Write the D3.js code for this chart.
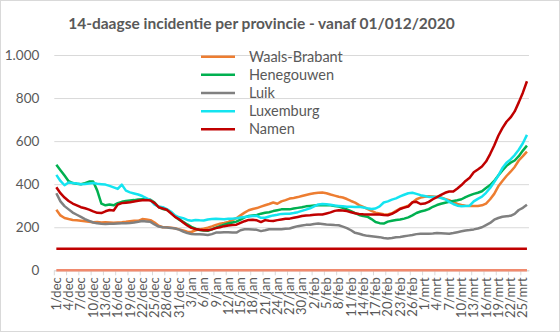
<!DOCTYPE html>
<html><head><meta charset="utf-8">
<script src="https://cdn.jsdelivr.net/npm/d3@7"></script>
<style>
html,body{margin:0;padding:0;background:#fff;}
svg{display:block;font-family:Lato,"Open Sans",sans-serif;}
</style></head><body>
<svg id="chart" width="560" height="332"></svg>
<script>
const title = "14-daagse incidentie per provincie - vanaf 01/012/2020";
const startDate = "2020-12-01";
const nDays = 116;
const monthNames = ["jan","feb","mrt","apr","mei","jun","jul","aug","sep","okt","nov","dec"];
const yTicks = [0, 200, 400, 600, 800, 1000];
const seriesNames = ["Waals-Brabant","Henegouwen","Luik","Luxemburg","Namen"];
const seriesColors = ["#ED7D31","#00B050","#808080","#14E4F0","#C00000"];

const waalsBrabant = [281,255,243,238,234,232,230,228,225,223,224,222,223,222,221,222,223,225,228,230,
230,238,236,233,222,207,200,200,198,195,190,185,179,178,186,190,193,198,204,211,
216,220,225,233,242,255,268,279,285,289,296,302,308,315,309,320,326,333,336,340,
345,350,354,358,360,361,358,352,347,342,338,331,322,314,303,295,285,276,268,264,
260,259,265,276,287,293,300,315,330,338,342,344,343,341,338,332,326,317,308,303,
300,299,299,299,302,310,330,355,390,415,438,458,480,510,530,551];
const henegouwen = [490,465,440,414,405,402,400,405,412,412,370,310,302,306,302,312,318,322,324,326,
329,330,331,328,315,294,285,281,270,250,235,225,213,202,193,187,185,184,190,198,
205,212,217,222,226,235,246,252,255,257,263,267,270,275,279,283,284,283,287,290,
293,297,299,301,302,302,302,302,299,296,290,283,275,266,257,252,249,238,224,219,
217,226,230,234,236,240,246,255,266,273,278,284,295,303,309,314,318,322,325,330,
340,348,355,360,367,382,396,415,440,464,485,500,510,530,556,579];
const luik = [358,320,298,283,268,258,248,238,230,222,218,216,215,216,216,217,218,219,220,222,
225,229,227,225,213,203,200,199,197,194,189,180,173,169,168,167,166,164,168,175,
176,177,177,176,175,186,191,191,190,188,182,186,191,191,191,191,193,194,200,205,
208,211,212,215,217,215,213,212,210,209,203,196,186,174,170,164,160,158,156,154,
150,148,150,153,155,158,161,164,168,170,170,170,171,173,172,171,170,173,177,181,
185,187,190,194,200,210,220,235,243,249,251,253,262,280,290,304];
const luxemburg = [443,415,395,408,405,403,400,401,403,405,402,400,398,392,385,378,398,370,362,357,
352,345,335,326,305,296,293,284,272,255,246,242,234,230,234,232,231,236,238,239,
238,237,239,240,242,245,248,250,252,253,244,244,250,255,258,262,263,263,266,270,
276,282,288,297,306,308,307,304,301,299,297,295,295,294,295,292,288,285,287,297,
315,320,328,334,343,351,358,360,355,349,345,341,341,341,336,330,318,308,300,298,
299,300,320,332,342,360,382,410,440,475,500,515,535,560,590,629];
const namen = [386,358,338,322,310,302,293,288,282,274,267,266,274,280,278,305,312,314,316,320,
323,325,327,324,312,293,287,281,265,248,237,222,208,197,192,188,186,186,190,196,
200,205,208,210,212,220,228,234,235,232,224,233,230,229,233,236,239,240,244,248,
252,255,256,258,259,259,264,269,276,279,278,275,270,265,262,260,259,259,259,259,
257,256,262,272,285,291,296,316,318,308,310,318,330,340,350,360,366,366,380,396,
415,430,455,468,482,505,540,580,625,660,690,710,738,780,825,878];
const thresholdValue = 100;
const zeroValue = 0;

const seriesData = [waalsBrabant, henegouwen, luik, luxemburg, namen];

// category labels
const start = new Date(startDate + "T00:00:00");
const dates = d3.timeDay.range(start, d3.timeDay.offset(start, nDays));
const categories = dates.map(d => d.getDate() + "/" + monthNames[d.getMonth()]);

const svg = d3.select("#chart");
const W = 560, H = 332;
const plot = {left: 54.3, right: 529, top: 55, bottom: 270.3};

svg.append("rect").attr("x",0.5).attr("y",0.5).attr("width",W-1).attr("height",H-1)
  .attr("fill","#fff").attr("stroke","#d9d9d9").attr("stroke-width",1);

const x = d3.scaleBand().domain(d3.range(nDays)).range([plot.left, plot.right]).padding(0);
const xc = i => x(i) + x.bandwidth()/2;
const y = d3.scaleLinear().domain([0,1000]).range([plot.bottom, plot.top]);

const nl = d3.formatLocale({decimal:",", thousands:".", grouping:[3], currency:["",""]});
const fmt = nl.format(",");

// gridlines + y labels
const yAxis = d3.axisLeft(y).tickValues(yTicks).tickSize(-(plot.right-plot.left)).tickFormat(fmt).tickPadding(15);
const gy = svg.append("g").attr("transform",`translate(${plot.left},0)`).call(yAxis);
gy.select(".domain").remove();
gy.selectAll(".tick line").attr("stroke","#d9d9d9").attr("stroke-width",1);
gy.selectAll(".tick text").attr("fill","#595959").style("font-size","13.5px").style("font-family","Lato");

// x axis
const tickIdx = d3.range(0, nDays, 3);
const xAxis = d3.axisBottom(x).tickValues(tickIdx).tickFormat(i => categories[i]).tickSize(5).tickSizeOuter(0);
const gx = svg.append("g").attr("transform",`translate(0,${plot.bottom})`).call(xAxis);
gx.select(".domain").attr("stroke","#d9d9d9");
gx.selectAll(".tick line").attr("stroke","#d9d9d9").attr("transform",`translate(${-x.bandwidth()/2},0)`);
gx.selectAll(".tick text")
  .attr("fill","#595959").style("font-size","13px").style("font-family","Lato")
  .attr("transform","rotate(-90)")
  .attr("text-anchor","end").attr("dy","0.35em").attr("x",-7).attr("y",0);

// zero line and threshold line
const line = d3.line().x((d,i)=>xc(i)).y(d=>y(d));
svg.append("path").datum(d3.range(nDays).map(()=>zeroValue)).attr("d",line)
  .attr("fill","none").attr("stroke","#F08A6E").attr("stroke-width",2.5);
svg.append("path").datum(d3.range(nDays).map(()=>thresholdValue)).attr("d",line)
  .attr("fill","none").attr("stroke","#C00000").attr("stroke-width",2.5);

// series
seriesData.forEach((s,k)=>{
  svg.append("path").datum(s).attr("d",line)
    .attr("fill","none").attr("stroke",seriesColors[k]).attr("stroke-width",2.5)
    .attr("stroke-linejoin","round");
});

// legend
const leg = svg.append("g");
seriesNames.forEach((n,k)=>{
  const yy = 56.7 + k*18.15;
  leg.append("line").attr("x1",201).attr("x2",235).attr("y1",yy).attr("y2",yy)
    .attr("stroke",seriesColors[k]).attr("stroke-width",2.5);
  leg.append("text").attr("x",249).attr("y",yy).attr("dy","0.35em")
    .attr("fill","#595959").style("font-size","14.5px").text(n);
});

// title
svg.append("text").attr("x",261.5).attr("y",29).attr("text-anchor","middle")
  .attr("fill","#595959").style("font-size","15.5px").style("font-weight","bold").text(title);
</script>
</body></html>
